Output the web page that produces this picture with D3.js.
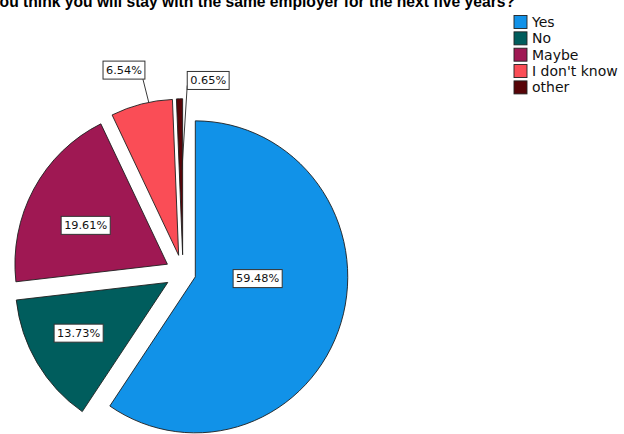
<!DOCTYPE html>
<html>
<head>
<meta charset="utf-8">
<script src="https://cdn.jsdelivr.net/npm/d3@7"></script>
<style>
  html, body { margin: 0; padding: 0; background: #fff; overflow: hidden; }
  svg { display: block; }
</style>
</head>
<body>
<svg id="chart" width="624" height="434"></svg>
<script>
// ---- data ----
const titleText = "Do you think you will stay with the same employer for the next five years?";
const categories = ["Yes", "No", "Maybe", "I don't know", "other"];
const percents = [59.48, 13.73, 19.61, 6.54, 0.65];
const palette = ["#1192e8", "#005d5d", "#9f1853", "#fa4d56", "#570408"];

// ---- layout ----
const R = 154;                       // pie radius
const cx = 183, cy = 273;            // pie centre
const sx = 0.99, sy = 1.013;         // slight aspect of the plot area
const explodeMain = 13, explodeRest = 18;
// label placement: [angle offset from slice bisector (deg), distance from slice apex]
const labelPlace = [[-15.5, 63], [2.1, 103], [-3.9, 91], [-2.7, 191], [9.7, 174]];
// leader targets for labels outside the slices: [angle offset (deg), distance]
const leaderTarget = [null, null, null, [2.8, R], [0.7, 84]];

const svg = d3.select("#chart");
const rad = d => d * Math.PI / 180;
const polar = (a, d) => [Math.sin(a) * d, -Math.cos(a) * d];
const toScreen = p => [cx + sx * p[0], cy + sy * p[1]];

// ---- title (runs past the left edge) ----
const title = svg.append("text")
  .attr("font-family", "'Liberation Sans', Arial, sans-serif")
  .attr("font-weight", "bold")
  .attr("font-size", 16)
  .attr("fill", "#000")
  .text(titleText);
const skip = 4; // "Do y" sits beyond the left edge
const visW = title.node().getSubStringLength(skip, titleText.length - skip);
const fs = 16 * 516 / visW;
title.attr("font-size", fs).attr("text-anchor", "end").attr("x", 515).attr("y", 6.5);

// ---- pie ----
const pie = d3.pie().sort(null).value(d => d.value);
const slices = pie(categories.map((c, i) => ({ name: c, value: percents[i], color: palette[i] })));
const arc = d3.arc().innerRadius(0).outerRadius(R);

slices.forEach((s, i) => {
  s.mid = (s.startAngle + s.endAngle) / 2;
  s.off = polar(s.mid, i === 0 ? explodeMain : explodeRest);
});

const g = svg.append("g")
  .attr("transform", `translate(${cx},${cy}) scale(${sx},${sy})`);

g.selectAll("path.slice")
  .data(slices)
  .join("path")
  .attr("class", "slice")
  .attr("transform", d => `translate(${d.off[0]},${d.off[1]})`)
  .attr("d", arc)
  .attr("fill", d => d.data.color)
  .attr("stroke", "#1e1e1e")
  .attr("stroke-width", 0.9)
  .attr("vector-effect", "non-scaling-stroke");

// ---- value labels ----
const labelLayer = svg.append("g");
const fmt = v => v.toFixed(2) + "%";

slices.forEach((s, i) => {
  const lp = labelPlace[i];
  const p = polar(s.mid + rad(lp[0]), lp[1]);
  const [lx, ly] = toScreen([s.off[0] + p[0], s.off[1] + p[1]]);

  const t = labelLayer.append("text")
    .attr("font-family", "'DejaVu Sans', Verdana, sans-serif")
    .attr("font-size", 11.3)
    .attr("fill", "#111")
    .attr("text-anchor", "middle")
    .attr("dominant-baseline", "central")
    .attr("x", lx).attr("y", ly)
    .text(fmt(s.data.value));
  const tw = t.node().getComputedTextLength();
  const bw = tw + 6, bh = 18;
  const bx = lx - bw / 2, by = ly - bh / 2;

  if (leaderTarget[i]) {
    const lt = leaderTarget[i];
    const q = polar(s.mid + rad(lt[0]), lt[1]);
    const [tx, ty] = toScreen([s.off[0] + q[0], s.off[1] + q[1]]);
    // leave from the box corner that faces the slice
    const start = tx > bx + bw / 2 ? [bx + bw - 2, by + bh] : [bx, by + bh - 4];
    labelLayer.append("line")
      .attr("x1", start[0]).attr("y1", start[1])
      .attr("x2", tx).attr("y2", ty)
      .attr("stroke", "#222").attr("stroke-width", 0.9);
  }

  labelLayer.append("rect")
    .attr("x", bx).attr("y", by)
    .attr("width", bw).attr("height", bh)
    .attr("fill", "#fff")
    .attr("stroke", "#333")
    .attr("stroke-width", 1);
  t.raise();
});

// ---- legend ----
const legend = svg.append("g").attr("transform", "translate(514,15.5)");
const rowH = 16.35, sw = 13;
const rows = legend.selectAll("g")
  .data(categories)
  .join("g")
  .attr("transform", (d, i) => `translate(0,${i * rowH})`);
rows.append("rect")
  .attr("width", sw).attr("height", sw)
  .attr("fill", (d, i) => palette[i])
  .attr("stroke", "#222").attr("stroke-width", 0.9);
rows.append("text")
  .attr("x", sw + 5).attr("y", sw / 2)
  .attr("dominant-baseline", "central")
  .attr("font-family", "'DejaVu Sans', Verdana, sans-serif")
  .attr("font-size", 14)
  .attr("fill", "#111")
  .text(d => d);
</script>
</body>
</html>
